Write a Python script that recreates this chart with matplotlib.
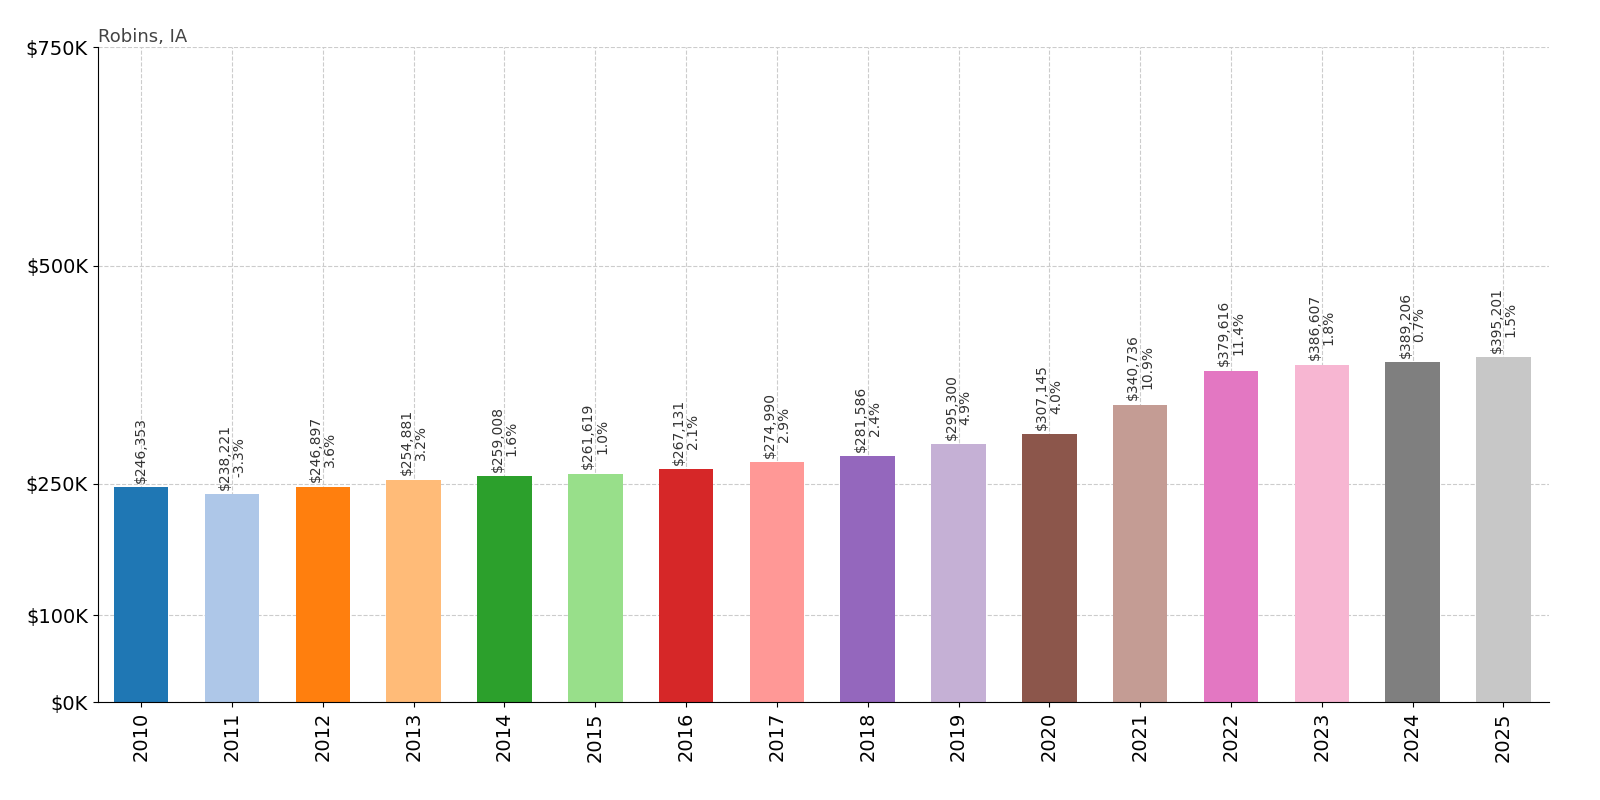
import matplotlib
matplotlib.use("Agg")
import matplotlib.pyplot as plt

years = [str(y) for y in range(2010, 2026)]
values = [246353, 238221, 246897, 254881, 259008, 261619, 267131, 274990,
          281586, 295300, 307145, 340736, 379616, 386607, 389206, 395201]
changes = [None, "-3.3%", "3.6%", "3.2%", "1.6%", "1.0%", "2.1%", "2.9%",
           "2.4%", "4.9%", "4.0%", "10.9%", "11.4%", "1.8%", "0.7%", "1.5%"]
y_ticks = [0, 100000, 250000, 500000, 750000]
y_labels = ["$0K", "$100K", "$250K", "$500K", "$750K"]

colors = plt.get_cmap("tab20").colors

fig = plt.figure(figsize=(16, 8), dpi=100)
ax = fig.add_axes([0.061, 0.122, 0.907, 0.819])

x = range(len(years))
ax.bar(x, values, width=0.6, color=[colors[i % 20] for i in x], zorder=2)

for i, v in enumerate(values):
    label = f"${v:,}"
    if changes[i] is not None:
        label += "\n" + changes[i]
    ax.text(i, v + 5000, label, rotation=90, ha="center", va="bottom",
            fontsize=10, color="#333333", linespacing=1.0, zorder=3)

ax.set_xlim(-0.48, 15.5)
ax.set_ylim(0, 750000)
ax.set_xticks(list(x))
ax.set_xticklabels(years, rotation=90, fontsize=14)
ax.set_yticks(y_ticks)
ax.set_yticklabels(y_labels, fontsize=14)
ax.grid(True, linestyle="--", color="#cccccc", linewidth=0.8, zorder=0)
ax.spines["top"].set_visible(False)
ax.spines["right"].set_visible(False)
ax.set_title("Robins, IA", loc="left", fontsize=13, color="#444444", pad=4)

fig.savefig("out.png", dpi=100)
